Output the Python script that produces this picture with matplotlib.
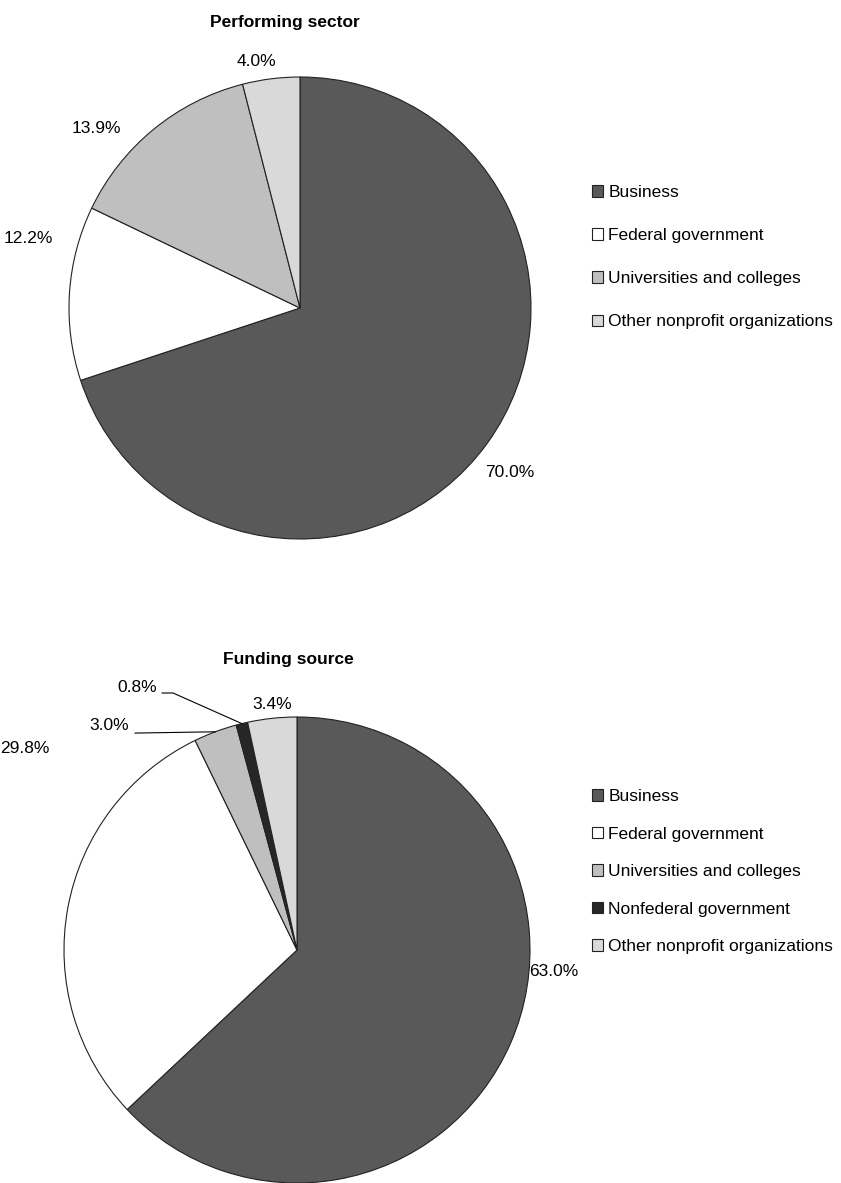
import numpy as np
import matplotlib
matplotlib.use('Agg')
import matplotlib.pyplot as plt
from matplotlib.patches import Patch

plt.rcParams['font.family'] = ['Liberation Sans', 'DejaVu Sans']

# Data
perf_labels = ['Business', 'Federal government', 'Universities and colleges',
               'Other nonprofit organizations']
perf_values = [70.0, 12.2, 13.9, 4.0]
perf_colors = ['#595959', '#ffffff', '#bfbfbf', '#d9d9d9']

fund_labels = ['Business', 'Federal government', 'Universities and colleges',
               'Nonfederal government', 'Other nonprofit organizations']
fund_values = [63.0, 29.8, 3.0, 0.8, 3.4]
fund_colors = ['#595959', '#ffffff', '#bfbfbf', '#262626', '#d9d9d9']

# label placement (in pie radius units, relative to centre)
perf_label_xy = [(0.909, -0.710), (-1.177, 0.303), (-0.883, 0.775), (-0.190, 1.065)]
fund_label_xy = [(1.102, -0.094), (-1.167, 0.863), (-0.807, 0.962), (-0.687, 1.128), (-0.107, 1.052)]
# leader lines for the small slices: index -> start points of the line
fund_leaders = {2: [(-0.695, 0.931)], 3: [(-0.579, 1.103), (-0.532, 1.103)]}

W, H = 841, 1183
fig = plt.figure(figsize=(W / 100, H / 100), dpi=100)
FS = 12.5


def draw_pie(cx, cy, r, values, colors, label_xy, leaders=None):
    ax = fig.add_axes([(cx - r) / W, (H - cy - r) / H, 2 * r / W, 2 * r / H])
    wedges, _ = ax.pie(values, colors=colors, startangle=90, counterclock=False,
                       wedgeprops=dict(edgecolor='#222222', linewidth=0.8))
    ax.set_xlim(-1, 1)
    ax.set_ylim(-1, 1)
    ax.set_aspect('equal')
    ax.axis('off')
    for v, (x, y) in zip(values, label_xy):
        ax.text(x, y, '%.1f%%' % v, ha='center', va='center', fontsize=FS, clip_on=False)
    if leaders:
        for i, pts in leaders.items():
            w = wedges[i]
            th = np.deg2rad((w.theta1 + w.theta2) / 2)
            xs = [p[0] for p in pts] + [np.cos(th)]
            ys = [p[1] for p in pts] + [np.sin(th)]
            ax.plot(xs, ys, color='black', lw=0.8, clip_on=False)
    return ax


def draw_legend(labels, colors, x, y, spacing):
    handles = [Patch(facecolor=c, edgecolor='#222222', linewidth=0.8) for c in colors]
    fig.legend(handles, labels, loc='upper left', bbox_to_anchor=(x / W, 1 - y / H),
               frameon=False, fontsize=FS, handlelength=0.63, handleheight=0.63,
               handletextpad=0.3, labelspacing=spacing, borderpad=0, borderaxespad=0)


draw_pie(300, 308, 231, perf_values, perf_colors, perf_label_xy)
fig.text(285 / W, 1 - 22 / H, 'Performing sector', ha='center', va='center',
         fontsize=FS, fontweight='bold')
draw_legend(perf_labels, perf_colors, 592, 185, 1.62)

draw_pie(297, 950, 233, fund_values, fund_colors, fund_label_xy, fund_leaders)
fig.text(288 / W, 1 - 659 / H, 'Funding source', ha='center', va='center',
         fontsize=FS, fontweight='bold')
draw_legend(fund_labels, fund_colors, 592, 789, 1.30)

fig.savefig('out.png', dpi=100)
